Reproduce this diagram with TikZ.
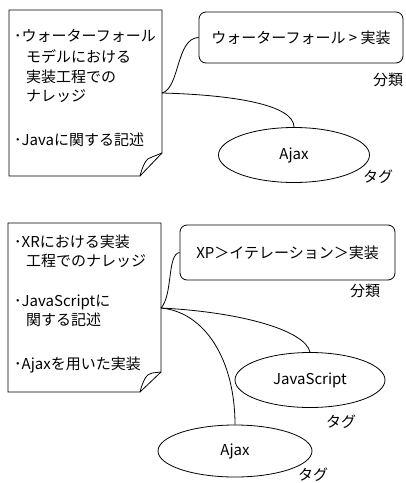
\documentclass[tikz,border=0pt]{standalone}
\usepackage{fontspec}
\setmainfont{Noto Sans CJK JP}
\usetikzlibrary{shapes.geometric}
\tikzset{
  ln/.style={draw=black, line width=0.8pt},
  txt/.style={inner sep=0pt, anchor=west, font=\fontsize{15}{17}\selectfont},
  lbl/.style={inner sep=0pt, font=\fontsize{15}{17}\selectfont},
  catbox/.style={ln, rounded corners=7pt, inner sep=0pt, font=\fontsize{15}{17}\selectfont},
  tagell/.style={ln, ellipse, inner sep=0pt, font=\fontsize{15}{17}\selectfont},
}
\begin{document}
\begin{tikzpicture}[x=1pt,y=-1pt]
\useasboundingbox (0,0) rectangle (406,483);
\fill[white] (0,0) rectangle (406,483);
% ---- top note
\draw[ln] (140,176) -- (9,176) -- (9,10) -- (162,10) -- (162,153) -- cycle;
\draw[ln] (140,176) .. controls (143,165) and (146,158) .. (152,157) -- (162,153);
\node[txt] (t1a) at (14,36) {･ウォーターフォール};
\node[txt] (t1b) at (26,57) {モデルにおける};
\node[txt] (t1c) at (26,77) {実装工程での};
\node[txt] (t1d) at (26,96) {ナレッジ};
\node[txt] (t1e) at (14,140) {･Javaに関する記述};
\coordinate (n1) at (162,93);
\node[catbox, minimum width=204pt, minimum height=51pt] (box1) at (301,37.5) {ウォーターフォール > 実装};
\node[lbl] (cl1) at (388,80) {分類};
\node[tagell, minimum width=151pt, minimum height=55pt] (tag1) at (294,155) {Ajax};
\node[lbl] (tl1) at (378,177) {タグ};
\draw[ln] (n1) .. controls (180,88) and (176,38) .. (box1.west);
\draw[ln] (n1) .. controls (235,95) and (294,105) .. (tag1.north);
% ---- bottom note
\draw[ln] (140,392) -- (8,392) -- (8,223) -- (161,223) -- (161,372) -- cycle;
\draw[ln] (140,392) .. controls (143,381) and (146,374) .. (152,373) -- (161,372);
\node[txt] (t2a) at (14,242) {･XRにおける実装};
\node[txt] (t2b) at (26,261) {工程でのナレッジ};
\node[txt] (t2c) at (14,302) {･JavaScriptに};
\node[txt] (t2d) at (26,320) {関する記述};
\node[txt] (t2e) at (14,365) {･Ajaxを用いた実装};
\coordinate (n2) at (161,308);
\node[catbox, minimum width=215pt, minimum height=55pt] (box2) at (287.5,252.5) {XP＞イテレーション＞実装};
\node[lbl] (cl2) at (365,291) {分類};
\node[tagell, minimum width=150pt, minimum height=55pt] (tag2) at (310,380) {JavaScript};
\node[lbl] (tl2) at (341,422) {タグ};
\node[tagell, minimum width=154pt, minimum height=52pt] (tag3) at (235,451) {Ajax};
\node[lbl] (tl3) at (313,475) {タグ};
\draw[ln] (n2) .. controls (173,295) and (167,254) .. (box2.west);
\draw[ln] (n2) .. controls (240,312) and (305,330) .. (tag2.north);
\draw[ln] (n2) .. controls (205,312) and (235,360) .. (tag3.north);
\end{tikzpicture}
\end{document}
